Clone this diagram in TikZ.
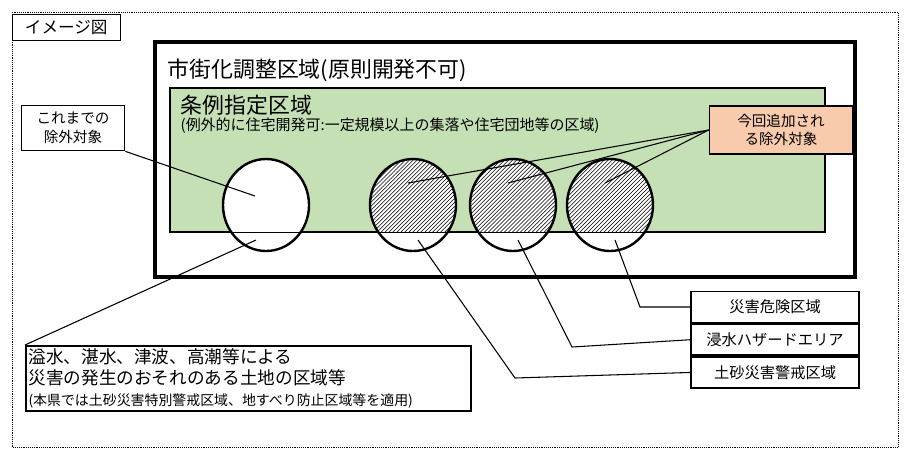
\documentclass[tikz,border=0pt]{standalone}
\usepackage{fontspec}
\setmainfont{Noto Sans CJK JP}
\usetikzlibrary{calc,positioning,patterns}
\definecolor{grn}{RGB}{197,224,180}
\definecolor{org}{RGB}{248,203,173}
\begin{document}
\begin{tikzpicture}[x=0.0265cm,y=-0.0265cm]
\tikzstyle{bx}=[draw, line width=1.3pt, fill=white, inner sep=3pt, align=center]%
\tikzstyle{ln}=[draw, line width=0.8pt]
\useasboundingbox (0,0) rectangle (908,458);
\draw[densely dotted] (12,12) rectangle (898,447);
\node[draw, fill=white, anchor=north west, minimum width=108*0.0265cm, minimum height=26*0.0265cm, font=\fontsize{12.5}{14}\selectfont] (img) at (12,14) {イメージ図};
\draw[line width=2.4pt] (155,42) rectangle (855,277);
\node[anchor=west, font=\fontsize{16.5}{18}\selectfont] (chosei) at (163,70) {市街化調整区域(原則開発不可)};
\draw[line width=1.5pt, fill=grn] (170,88) rectangle (825,232);
\node[anchor=west, font=\fontsize{16.5}{18}\selectfont] (jorei) at (176,105) {条例指定区域};
\node[anchor=west, font=\fontsize{11.3}{13}\selectfont] (jorei2) at (176,126) {(例外的に住宅開発可:一定規模以上の集落や住宅団地等の区域)};
% circles
\draw[line width=1.8pt, fill=white] (266,205) ellipse (43 and 46);
\draw[thin] (223,232) -- (309,232);
\coordinate (c0a) at (255,196);
\coordinate (c0b) at (256,240);
\foreach \i/\x in {1/413,2/513,3/610}{
\fill[white] (\x,205) ellipse (43 and 46);
\begin{scope}
\clip (\x-50,150) rectangle (\x+50,232);
\fill[pattern=north east lines] (\x,205) ellipse (43 and 46);
\end{scope}
\draw[thin] (\x-42,232) -- (\x+42,232);
\draw[line width=1.8pt] (\x,205) ellipse (43 and 46);
\coordinate (h\i) at (\x-5,183);
\coordinate (b\i) at (\x+5,240);
}
% labels
\node[bx, font=\fontsize{11}{14}\selectfont, minimum width=103*0.0265cm, minimum height=45*0.0265cm] (kore) at (73,128) {これまでの\\除外対象};
\node[bx, fill=org, font=\fontsize{11}{14}\selectfont, minimum width=143*0.0265cm, minimum height=48*0.0265cm] (konkai) at (781,130) {今回追加され\\る除外対象};
\node[bx, anchor=north west, align=left, font=\fontsize{13.3}{16}\selectfont, text width=440*0.0265cm, minimum height=60*0.0265cm, inner sep=2pt] (shinsui) at (25,345) {溢水、湛水、津波、高潮等による\\災害の発生のおそれのある土地の区域等\\{\fontsize{10.5}{12}\selectfont (本県では土砂災害特別警戒区域、地すべり防止区域等を適用)}};
\node[bx, font=\fontsize{11.5}{13}\selectfont, minimum width=168*0.0265cm, minimum height=31*0.0265cm] (k1) at (775,307) {災害危険区域};
\node[bx, font=\fontsize{11.5}{13}\selectfont, minimum width=168*0.0265cm, minimum height=31*0.0265cm, below=0pt of k1] (k2) {浸水ハザードエリア};
\node[bx, font=\fontsize{11.5}{13}\selectfont, minimum width=168*0.0265cm, minimum height=31*0.0265cm, below=0pt of k2] (k3) {土砂災害警戒区域};
% connectors
\draw[ln] (kore.south east) -- (c0a);
\draw[ln] (c0b) -- (shinsui.north west);
\foreach \i in {1,2,3}{\draw[ln] (konkai.west) -- (h\i);}
\draw[ln] (b3) -- (640,307) -- (k1.west);
\draw[ln] (b2) -- (572,347) -- (k2.west);
\draw[ln] (b1) -- (515,378) -- (k3.west);
\end{tikzpicture}
\end{document}
